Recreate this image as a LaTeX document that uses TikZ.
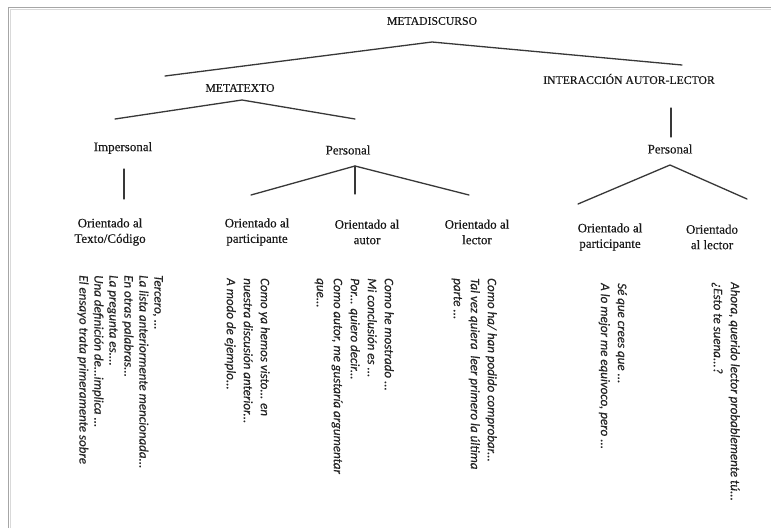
\documentclass[tikz,border=0pt]{standalone}
\usepackage{fontspec}
\setmainfont{Liberation Serif}[FakeBold=0.35]
\newfontfamily\rotfont{Carlito}[FakeBold=0.3]
\begin{document}
\begin{tikzpicture}[x=1pt,y=1pt,
  caps/.style={font=\fontsize{11.7}{14}\selectfont, text=black!90, inner sep=0pt},
  lab/.style={font=\fontsize{13}{15.5}\selectfont, text=black!90, align=center, inner sep=0pt},
  ex/.style={font=\rotfont\itshape\fontsize{13}{17}\selectfont, text=black!85, align=left, rotate=-90, anchor=north west, inner sep=0pt},
  exA/.style={ex, font=\rotfont\itshape\fontsize{13}{15}\selectfont},
  br/.style={line width=1.3pt, draw=black!78, line cap=round}]
\useasboundingbox (0,0) rectangle (771,-528);
\fill[white] (0,0) rectangle (771,-528);
% frame
\draw[gray!70, line width=1pt] (8.5,-528) |- (771,-7.5);
\draw[gray!30, line width=0.8pt] (10.5,-528) |- (771,-9.5);

% labels
\node[caps] (meta)  at (432,-21) {METADISCURSO};
\node[caps] (metat) at (240,-88) {METATEXTO};
\node[caps] (inter) at (629,-79) {INTERACCIÓN AUTOR-LECTOR};
\node[lab] (imp)   at (123,-148) {Impersonal};
\node[lab] (pers1) at (348,-150) {Personal};
\node[lab] (pers2) at (670,-149) {Personal};
\node[lab] (o1) at (110,-232) {Orientado al\\Texto/Código};
\node[lab] (o2) at (257,-232) {Orientado al\\participante};
\node[lab] (o3) at (367,-232) {Orientado al\\autor};
\node[lab] (o4) at (477,-232) {Orientado al\\lector};
\node[lab] (o5) at (610,-237) {Orientado al\\participante};
\node[lab] (o6) at (712,-237) {Orientado\\al lector};

% connector points
\coordinate (a0) at (432,-42);
\coordinate (a0l) at (165,-76);
\coordinate (a0r) at (682,-65);
\coordinate (a1) at (242,-100);
\coordinate (a1l) at (115,-119);
\coordinate (a1r) at (355,-119);
\coordinate (b1t) at (124,-169);
\coordinate (b1b) at (124,-199);
\coordinate (a2) at (355,-166);
\coordinate (a2l) at (251,-195);
\coordinate (a2m) at (355,-194);
\coordinate (a2r) at (469,-195);
\coordinate (b2t) at (671,-108);
\coordinate (b2b) at (671,-137);
\coordinate (a3) at (670,-165);
\coordinate (a3l) at (578,-204);
\coordinate (a3r) at (747,-199);

\draw[br] (a0l) -- (a0) -- (a0r);
\draw[br] (a1l) -- (a1) -- (a1r);
\draw[br] (b1t) -- (b1b);
\draw[br] (a2l) -- (a2) -- (a2r);
\draw[br] (a2) -- (a2m);
\draw[br] (b2t) -- (b2b);
\draw[br] (a3l) -- (a3) -- (a3r);

% examples (rotated)
\node[exA] (e1) at (163,-275) {Tercero, ...\\La lista anteriormente mencionada...\\En otras palabras...\\La pregunta es....\\Una definición de...implica ...\\El ensayo trata primeramente sobre};
\node[ex] (e2) at (270,-278) {Como ya hemos visto... en\\nuestra discusión anterior...\\A modo de ejemplo...};
\node[ex] (e3) at (394,-278) {Como he mostrado ...\\Mi conclusión es ...\\Por... quiero decir...\\Como autor, me gustaría argumentar\\que...};
\node[ex] (e4) at (497,-278) {Como ha/ han podido comprobar...\\Tal vez quiera\ \ leer primero la última\\parte ...};
\node[ex] (e5) at (627,-283) {Sé que crees que ...\\A lo mejor me equivoco, pero ...};
\node[ex] (e6) at (740,-282) {Ahora, querido lector probablemente tú...\\¿Esto te suena...?};
\end{tikzpicture}
\end{document}
